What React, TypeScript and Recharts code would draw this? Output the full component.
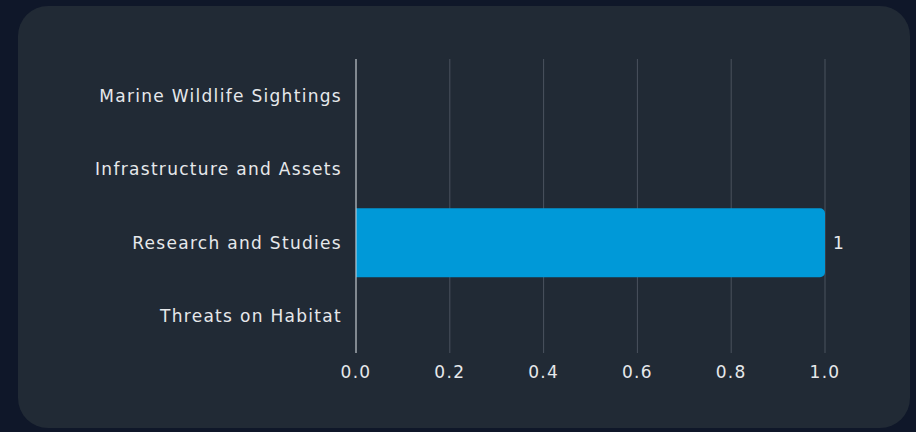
import React from 'react';
import { BarChart, Bar, XAxis, YAxis, CartesianGrid, LabelList } from 'recharts';

const categories = [
  'Marine Wildlife Sightings',
  'Infrastructure and Assets',
  'Research and Studies',
  'Threats on Habitat',
];
const counts = [0, 0, 1, 0];
const xTicks = [0, 0.2, 0.4, 0.6, 0.8, 1.0];

const data = categories.map((name, i) => ({ name, count: counts[i] }));

const FONT = '"DejaVu Sans", "Noto Sans", sans-serif';
const tickStyle = { fill: '#e6e8eb', fontSize: 17, letterSpacing: 1.3 };

export default function App() {
  return (
    <div style={{ position: 'fixed', inset: 0, background: '#0f1729' }}>
      <div
        style={{
          position: 'absolute',
          left: 18,
          top: 6,
          width: 892,
          height: 422,
          background: '#212a35',
          borderRadius: 30,
          overflow: 'hidden',
        }}
      >
        <BarChart
          layout="vertical"
          width={892}
          height={422}
          data={data}
          margin={{ top: 53, right: 85, left: 0, bottom: 0 }}
          barCategoryGap="3%"
          style={{ fontFamily: FONT }}
        >
          <CartesianGrid horizontal={false} stroke="#4a525e" />
          <XAxis
            type="number"
            domain={[0, 1]}
            ticks={xTicks}
            tickFormatter={(v: number) => v.toFixed(1)}
            axisLine={false}
            tickLine={false}
            height={75}
            tickMargin={7}
            tick={tickStyle}
          />
          <YAxis
            type="category"
            dataKey="name"
            width={338}
            axisLine={{ stroke: '#cfd3d8' }}
            tickLine={false}
            tickMargin={8}
            tick={tickStyle}
          />
          <Bar dataKey="count" fill="#0099d8" radius={[0, 5, 5, 0]} isAnimationActive={false}>
            <LabelList
              dataKey="count"
              position="right"
              offset={8}
              fill="#e6e8eb"
              fontSize={17}
              formatter={(v: number) => (v ? String(v) : '')}
            />
          </Bar>
        </BarChart>
      </div>
    </div>
  );
}
